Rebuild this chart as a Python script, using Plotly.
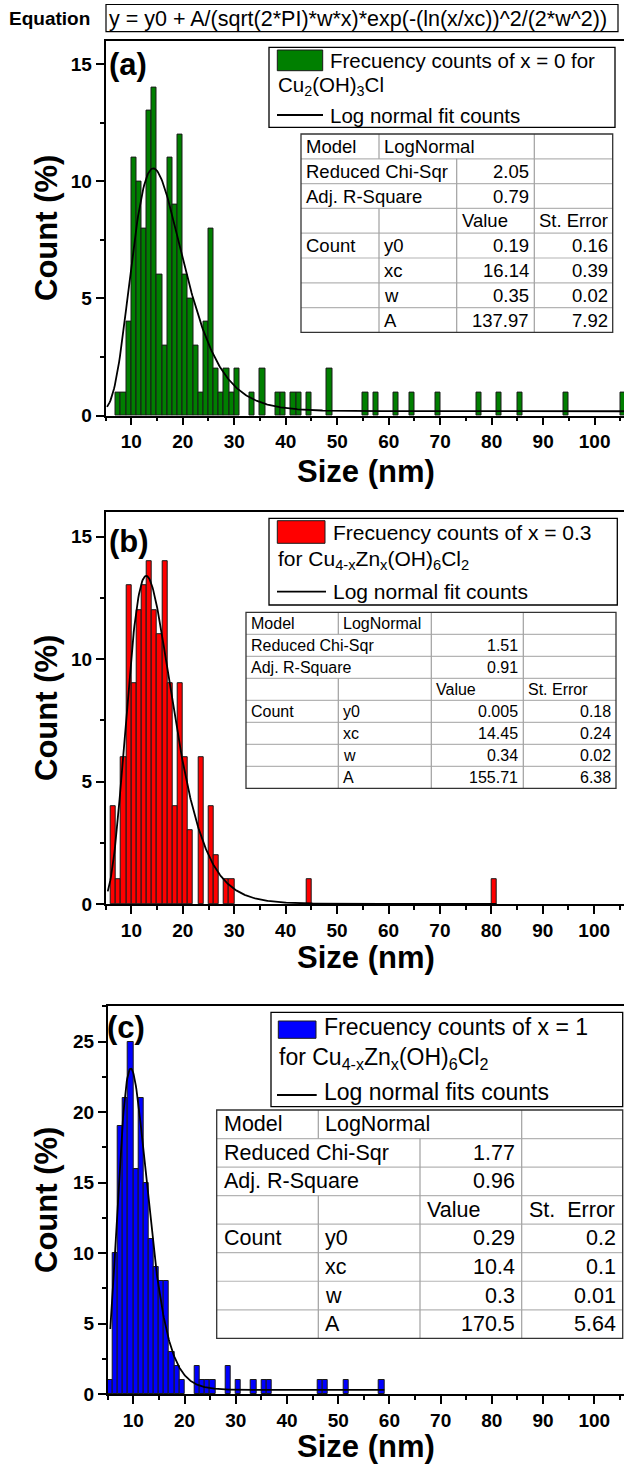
import numpy as np
import plotly.graph_objects as go

W, H = 624, 1464
FONT = "Liberation Sans, Arial, sans-serif"

# ---------------- data ----------------
# histogram bins (left edge, nm) and counts (%)
bins_a = [7, 8, 9, 10, 11, 12, 13, 14, 15, 16, 17, 18, 19, 20, 21, 22, 23, 24, 25, 26, 27, 28, 29, 30,
          33, 35, 38, 39, 41, 42, 44, 48, 55, 57, 61, 64, 69, 77, 81, 85, 94, 105]
counts_a = [1, 1, 4, 11, 10, 8, 13, 14, 6, 3, 11, 9, 12, 6, 5, 3, 1, 4, 8, 2, 1, 2, 1, 2,
            1, 2, 1, 1, 1, 1, 1, 2, 1, 1, 1, 1, 1, 1, 1, 1, 1, 1]

bins_b = [6, 7, 8, 9, 10, 11, 12, 13, 14, 15, 16, 17, 18, 19, 20, 21, 23, 25, 26, 28, 29, 44, 80]
counts_b = [4, 1, 6, 13, 9, 12, 13, 14, 12, 11, 14, 9, 4, 9, 6, 3, 6, 4, 2, 1, 1, 1, 1]

bins_c = [5, 6, 7, 8, 9, 10, 11, 12, 13, 14, 15, 16, 17, 18, 19, 22, 23, 24, 25, 28, 30, 33, 35, 36,
          46, 47, 51, 58]
counts_c = [1, 10, 19, 21, 25, 16, 21, 15, 11, 9, 8, 8, 3, 2, 1, 2, 1, 1, 1, 2, 1, 1, 1, 1,
            1, 1, 1, 1]

# log-normal fit parameters (from the fit tables)
y0_vals = [0.19, 0.005, 0.29]
xc_vals = [16.14, 14.45, 10.4]
w_vals = [0.35, 0.34, 0.3]
A_vals = [137.97, 155.71, 170.5]
y0_err = [0.16, 0.18, 0.2]
xc_err = [0.39, 0.24, 0.1]
w_err = [0.02, 0.02, 0.01]
A_err = [7.92, 6.38, 5.64]
chi_vals = [2.05, 1.51, 1.77]
r2_vals = [0.79, 0.91, 0.96]
fit_start = [5.3, 5.4, 5.5]
fit_end = [105.7, 81, 59]

bar_colors = ["#007F00", "#FF0000", "#0000FF"]
panel_labels = ["(a)", "(b)", "(c)"]
legend_line1 = ["Frecuency counts of x = 0 for", "Frecuency counts of x = 0.3", "Frecuency counts of x = 1"]
legend_line2 = ["Cu<sub>2</sub>(OH)<sub>3</sub>Cl",
                "for Cu<sub>4-x</sub>Zn<sub>x</sub>(OH)<sub>6</sub>Cl<sub>2</sub>",
                "for Cu<sub>4-x</sub>Zn<sub>x</sub>(OH)<sub>6</sub>Cl<sub>2</sub>"]
legend_line3 = ["Log normal fit counts", "Log normal fit counts", "Log normal fits counts"]
err_header = ["St. Error", "St. Error", "St.\u00a0 Error"]
equation = "y = y0 + A/(sqrt(2*PI)*w*x)*exp(-(ln(x/xc))^2/(2*w^2))"

bins_all = [bins_a, bins_b, bins_c]
counts_all = [counts_a, counts_b, counts_c]

# ---------------- layout geometry (pixels) ----------------
geo = [
    dict(xl=105.5, xr=105.7, yb=415.7, yt=40.6, ymax=16, ydt=5,
         leg=(269, 47.3, 615, 127.3), sw=(277.3, 50, 322.7, 70.7), t1=(329.3, 61), t2=(277.3, 86),
         ln=(277, 323, 115), t3=(329.3, 115), lfs=20.5,
         cols=[301, 379, 456.7, 534.3, 612.7], top=134, rh=24.8, tfs=18.5, pad=4, merge0=True,
         lab=(108, 64), ytitle=228, xtitle=471),
    dict(xl=105.7, xr=105.8, yb=904, yt=512.2, ymax=16, ydt=5,
         leg=(269, 518.3, 617.3, 605), sw=(277.3, 520.7, 325, 543.3), t1=(331.7, 532.7), t2=(277.3, 560),
         ln=(277, 326, 591.7), t3=(331.7, 591.7), lfs=21,
         cols=[246, 338.3, 431.3, 523.3, 616], top=612.3, rh=22, tfs=16, pad=4, merge0=False,
         lab=(108, 541), ytitle=708, xtitle=957),
    dict(xl=107.7, xr=105.8, yb=1394, yt=1006, ymax=27.53, ydt=5,
         leg=(271, 1012.3, 622.7, 1106.7), sw=(278.3, 1021, 316, 1038.3), t1=(323.3, 1026.7), t2=(278.3, 1058.3),
         ln=(277, 316.7, 1095), t3=(323.3, 1092), lfs=23,
         cols=[216.7, 318.3, 420, 521.7, 622.7], top=1110, rh=28.54, tfs=21.5, pad=6, merge0=True,
         lab=(106, 1027), ytitle=1200, xtitle=1446),
]


def px(x):
    return x / W


def py(y):
    return 1 - y / H


shapes = []
annotations = []


def add_text(x, y, s, size, xanchor="left", bold=False, angle=0):
    annotations.append(dict(
        x=px(x), y=py(y), xref="paper", yref="paper", text=s, showarrow=False,
        xanchor=xanchor, yanchor="middle", textangle=angle, borderpad=0,
        font=dict(family=FONT, size=size, color="black", weight="bold" if bold else "normal")))


def add_rect(x0, y0, x1, y1, color="black", width=1.2, fill=None):
    shapes.append(dict(type="rect", xref="paper", yref="paper", x0=px(x0), x1=px(x1), y0=py(y0), y1=py(y1),
                       line=dict(color=color, width=width), fillcolor=fill, layer="above"))


def add_line(x0, y0, x1, y1, color="black", width=1.0):
    shapes.append(dict(type="line", xref="paper", yref="paper", x0=px(x0), x1=px(x1), y0=py(y0), y1=py(y1),
                       line=dict(color=color, width=width), layer="above"))


fig = go.Figure()
layout_axes = {}

for i in range(3):
    g = geo[i]
    xa = "x" if i == 0 else f"x{i+1}"
    ya = "y" if i == 0 else f"y{i+1}"
    fig.add_trace(go.Bar(x=bins_all[i], y=counts_all[i], width=1, offset=0,
                         marker=dict(color=bar_colors[i], line=dict(color="#1a1a1a", width=1)),
                         xaxis=xa, yaxis=ya, showlegend=False))
    xs = np.linspace(fit_start[i], fit_end[i], 600)
    ys = y0_vals[i] + A_vals[i] / (np.sqrt(2 * np.pi) * w_vals[i] * xs) * \
        np.exp(-(np.log(xs / xc_vals[i])) ** 2 / (2 * w_vals[i] ** 2))
    fig.add_trace(go.Scatter(x=xs, y=ys, mode="lines", line=dict(color="black", width=1.8),
                             xaxis=xa, yaxis=ya, showlegend=False))

    tickfont = dict(family=FONT, size=19, color="black", weight="bold")
    layout_axes["xaxis" if i == 0 else f"xaxis{i+1}"] = dict(
        domain=[g["xl"] / W, 1], range=[5, g["xr"]], anchor=ya,
        showline=True, linecolor="black", linewidth=1.5, mirror=True,
        ticks="outside", ticklen=8, tickwidth=1.5, tickcolor="black",
        tick0=0, dtick=10, showgrid=False, zeroline=False, tickfont=tickfont,
        minor=dict(ticks="outside", ticklen=4, tickwidth=1.5, tickcolor="black", dtick=5, tick0=0),
        automargin=False, fixedrange=True)
    layout_axes["yaxis" if i == 0 else f"yaxis{i+1}"] = dict(
        domain=[py(g["yb"]), py(g["yt"])], range=[0, g["ymax"]], anchor=xa,
        showline=True, linecolor="black", linewidth=1.5,
        ticks="outside", ticklen=8, tickwidth=1.5, tickcolor="black",
        tick0=0, dtick=g["ydt"], showgrid=False, zeroline=False, tickfont=tickfont,
        minor=dict(ticks="outside", ticklen=4, tickwidth=1.5, tickcolor="black", dtick=2.5, tick0=0),
        automargin=False, fixedrange=True)

    # axis titles and panel label
    add_text(46, g["ytitle"], "Count (%)", 31, xanchor="center", bold=True, angle=-90)
    add_text(366, g["xtitle"], "Size (nm)", 31, xanchor="center", bold=True)
    add_text(g["lab"][0], g["lab"][1], panel_labels[i], 31, bold=True)

    # legend box
    lx0, ly0, lx1, ly1 = g["leg"]
    add_rect(lx0, ly0, lx1, ly1, color="black", width=1.3, fill="white")
    sx0, sy0, sx1, sy1 = g["sw"]
    add_rect(sx0, sy0, sx1, sy1, color="#1a1a1a", width=1, fill=bar_colors[i])
    add_text(g["t1"][0], g["t1"][1], legend_line1[i], g["lfs"])
    add_text(g["t2"][0], g["t2"][1], legend_line2[i], g["lfs"])
    add_line(g["ln"][0], g["ln"][2], g["ln"][1], g["ln"][2], color="black", width=1.8)
    add_text(g["t3"][0], g["t3"][1], legend_line3[i], g["lfs"])

    # fit table
    cols = g["cols"]
    top = g["top"]
    rh = g["rh"]
    cells = [
        ["Model", "LogNormal", "", ""],
        ["Reduced Chi-Sqr", "", str(chi_vals[i]), ""],
        ["Adj. R-Square", "", str(r2_vals[i]), ""],
        ["", "", "Value", err_header[i]],
        ["Count", "y0", str(y0_vals[i]), str(y0_err[i])],
        ["", "xc", str(xc_vals[i]), str(xc_err[i])],
        ["", "w", str(w_vals[i]), str(w_err[i])],
        ["", "A", str(A_vals[i]), str(A_err[i])],
    ]
    add_rect(cols[0], top, cols[4], top + 8 * rh, color="white", width=0, fill="white")
    for r in range(1, 8):
        add_line(cols[0], top + r * rh, cols[4], top + r * rh, color="#b4b4b4", width=1.2)
    for r in range(8):
        for b in (1, 2, 3):
            if r in (1, 2) and b == 1:
                continue
            if r == 0 and b == 2 and g["merge0"]:
                continue
            add_line(cols[b], top + r * rh, cols[b], top + (r + 1) * rh, color="#a0a0a0", width=1.2)
    add_rect(cols[0], top, cols[4], top + 8 * rh, color="#333333", width=1.3)
    for r in range(8):
        yc = top + (r + 0.5) * rh
        for c in range(4):
            s = cells[r][c]
            if not s:
                continue
            if c >= 2 and r not in (0, 3):
                add_text(cols[c + 1] - g["pad"], yc, s, g["tfs"], xanchor="right")
            else:
                add_text(cols[c] + g["pad"], yc, s, g["tfs"])

# equation header
add_text(8, 18.5, "Equation", 19, bold=True)
add_rect(106, 4.5, 618, 31.7, color="black", width=1.2)
add_text(107.5, 18.5, equation, 21.5)

fig.update_layout(
    width=W, height=H, margin=dict(l=0, r=0, t=0, b=0),
    paper_bgcolor="white", plot_bgcolor="white",
    showlegend=False, bargap=0, barmode="overlay",
    shapes=shapes, annotations=annotations,
    font=dict(family=FONT, color="black"),
    **layout_axes,
)

fig.write_html("out.html")
